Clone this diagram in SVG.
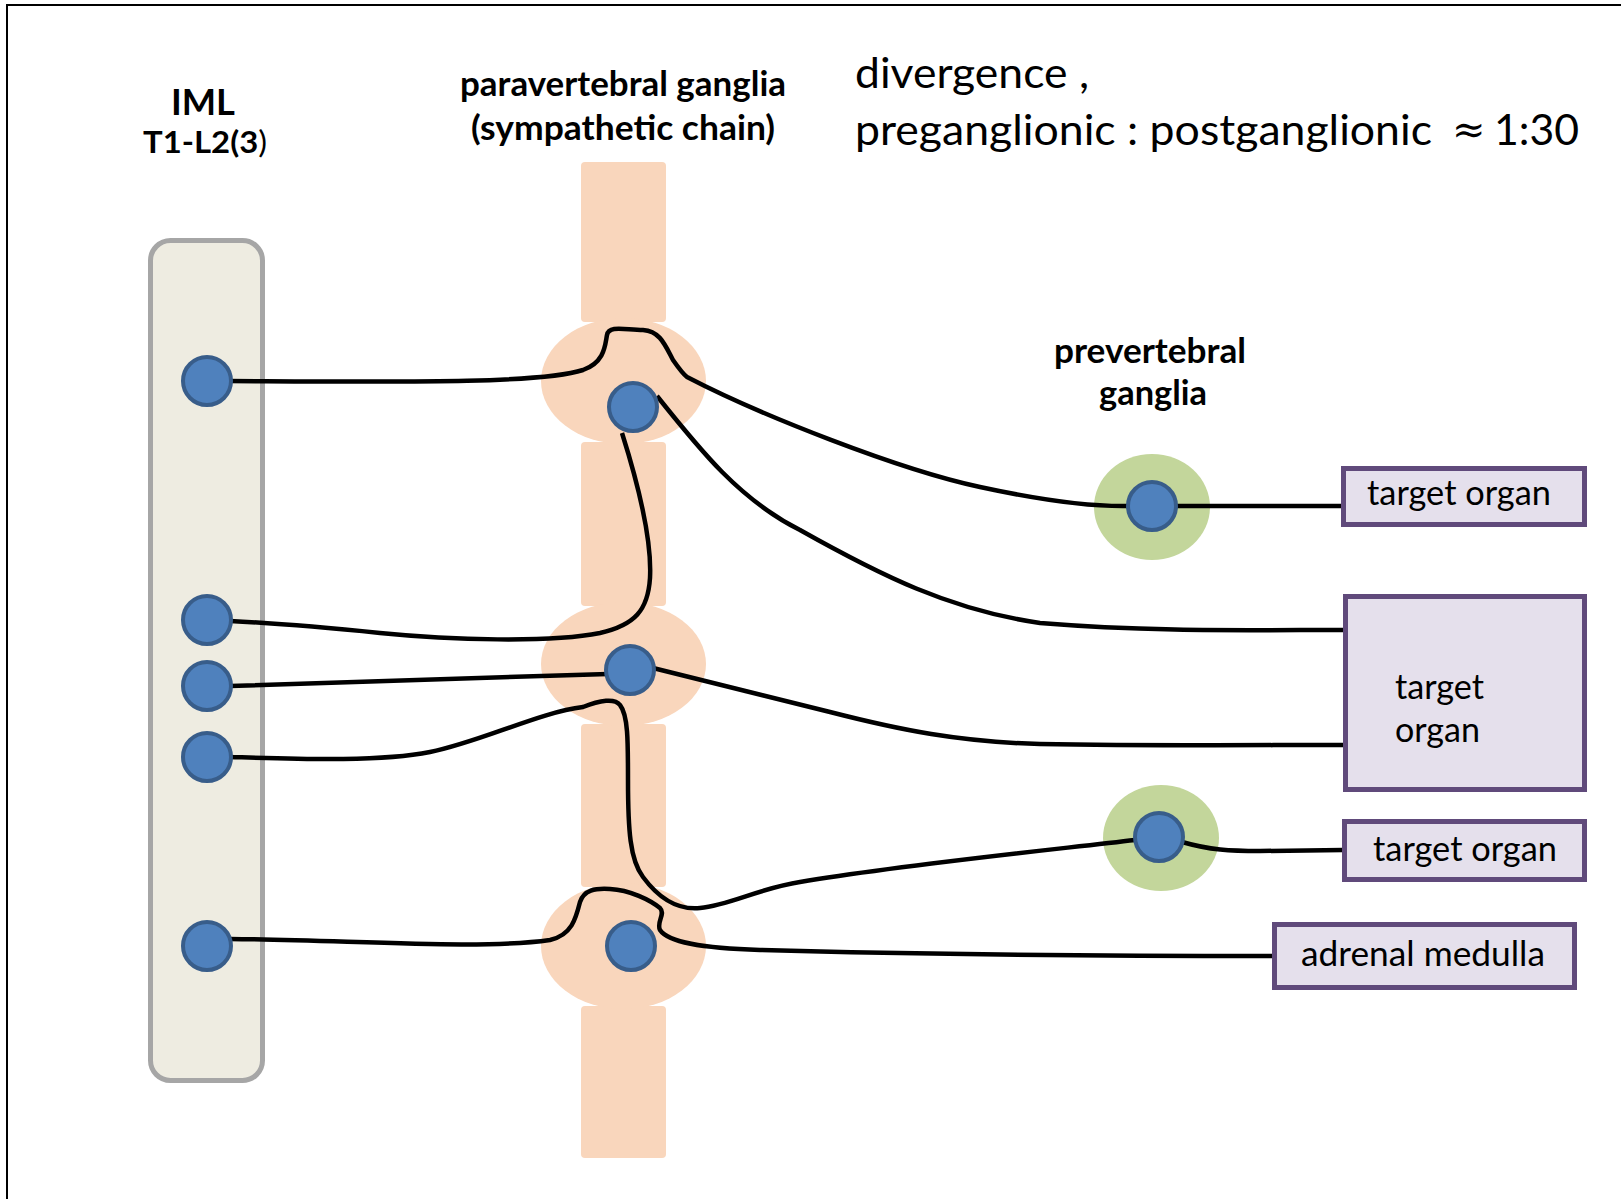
<svg xmlns="http://www.w3.org/2000/svg" width="1621" height="1199" viewBox="0 0 1621 1199">
<defs>
<style>
.frame{fill:none;stroke:#000;stroke-width:2}
.iml{fill:#eeece1;stroke:#a6a6a6;stroke-width:5}
.chain{fill:#f9d6bc}
.pre{fill:#c3d69b}
.neuron{fill:#4f81bd;stroke:#385d8a;stroke-width:4}
.organ{fill:#e5e0ec;stroke:#604a7b;stroke-width:5}
.fiber{fill:none;stroke:#000;stroke-width:4.5;stroke-linecap:butt}
text{font-family:Lato,"Open Sans","Liberation Sans",sans-serif;fill:#000}
.b{font-weight:bold}
.lbl{font-size:34px}
.hd{font-size:43px}
</style>
</defs>
<rect width="1621" height="1199" fill="#fff"/>
<path class="frame" d="M7,1199 V5 H1621"/>

<g id="title">
<text class="hd" x="855" y="88" textLength="234" lengthAdjust="spacingAndGlyphs">divergence ,</text>
<text class="hd" x="855" y="145" textLength="577" lengthAdjust="spacingAndGlyphs">preganglionic : postganglionic</text>
<text x="1452" y="143" font-size="40" style="font-family:'DejaVu Serif','Liberation Serif',serif">≈</text>
<text class="hd" x="1494" y="145" textLength="85" lengthAdjust="spacingAndGlyphs">1:30</text>
</g>

<g id="iml">
<rect class="iml" x="150.5" y="240.5" width="112" height="840" rx="20"/>
<text class="b" x="203" y="115" font-size="36" text-anchor="middle" textLength="64" lengthAdjust="spacingAndGlyphs">IML</text>
<text class="b" x="205" y="153" font-size="31" text-anchor="middle" textLength="124" lengthAdjust="spacingAndGlyphs">T1-L2(3<tspan font-weight="normal">)</tspan></text>
</g>

<g id="paravertebral-chain">
<rect class="chain" x="581" y="162" width="85" height="160" rx="4"/>
<rect class="chain" x="581" y="442" width="85" height="164" rx="4"/>
<rect class="chain" x="581" y="724" width="85" height="163" rx="4"/>
<rect class="chain" x="581" y="1006" width="85" height="152" rx="4"/>
<ellipse class="chain" cx="623.5" cy="381" rx="82.5" ry="63"/>
<ellipse class="chain" cx="623.5" cy="664" rx="82.5" ry="62"/>
<ellipse class="chain" cx="623.5" cy="946" rx="82.5" ry="63"/>
<text class="b" x="623" y="96" font-size="34" text-anchor="middle" textLength="326" lengthAdjust="spacingAndGlyphs">paravertebral ganglia</text>
<text class="b" x="623" y="140" font-size="34" text-anchor="middle" textLength="304" lengthAdjust="spacingAndGlyphs">(sympathetic chain)</text>
</g>

<g id="prevertebral">
<ellipse class="pre" cx="1152" cy="507" rx="58" ry="53"/>
<ellipse class="pre" cx="1161" cy="838" rx="58" ry="53"/>
<text class="b" x="1150" y="363" font-size="34" text-anchor="middle" textLength="192" lengthAdjust="spacingAndGlyphs">prevertebral</text>
<text class="b" x="1153" y="405" font-size="34" text-anchor="middle" textLength="108" lengthAdjust="spacingAndGlyphs">ganglia</text>
</g>

<g id="connectors">
<path class="fiber" d="M228,381 C400,382 540,384 583,370 C605,362 605,345 607,335 C609,325 625,330 643,330 C660,331 665,345 673,360 C680,370 683,374 687,377 C760,415 900,470 980,487 C1040,500 1090,507 1130,506"/>
<path class="fiber" d="M1170,506 L1343,506"/>
<path class="fiber" d="M657,396 C700,450 740,500 800,530 C880,575 950,610 1040,623 C1150,632 1250,630 1343,630"/>
<path class="fiber" d="M622,433 C640,490 652,540 650,578 C648,610 635,625 600,633 C550,643 450,640 380,633 C320,627 270,623 230,621"/>
<path class="fiber" d="M230,686 C400,681 500,677 608,674"/>
<path class="fiber" d="M653,668 C700,680 760,695 830,712 C900,730 960,742 1040,744 C1150,746 1250,745 1343,745"/>
<path class="fiber" d="M230,757 C300,759 380,762 430,752 C480,742 540,712 583,707 C600,700 615,698 620,705 C628,715 628,740 628,780 C628,830 630,860 643,877 C660,900 680,910 700,908 C730,905 760,888 800,882 C900,865 1050,850 1135,840"/>
<path class="fiber" d="M1182,842 C1210,850 1230,851 1260,851 L1343,850"/>
<path class="fiber" d="M230,939 C350,940 480,950 550,940 C572,935 576,918 580,902 C584,890 595,888 610,889 C630,890 650,900 660,908 C666,914 656,922 660,930 C668,942 700,948 760,950 C900,954 1100,956 1273,956"/>
</g>

<g id="neurons">
<circle class="neuron" cx="207" cy="381" r="24"/>
<circle class="neuron" cx="207" cy="620" r="24"/>
<circle class="neuron" cx="207" cy="686" r="24"/>
<circle class="neuron" cx="207" cy="757" r="24"/>
<circle class="neuron" cx="207" cy="946" r="24"/>
<circle class="neuron" cx="633" cy="407" r="24"/>
<circle class="neuron" cx="630" cy="670" r="24"/>
<circle class="neuron" cx="631" cy="946" r="24"/>
<circle class="neuron" cx="1152" cy="506" r="24"/>
<circle class="neuron" cx="1159" cy="837" r="24"/>
</g>

<g id="organ1">
<rect class="organ" x="1343.5" y="468.5" width="241" height="56"/>
<text class="lbl" x="1367" y="505" textLength="184" lengthAdjust="spacingAndGlyphs">target organ</text>
</g>
<g id="organ2">
<rect class="organ" x="1345.5" y="596.5" width="239" height="193"/>
<text class="lbl" x="1395" y="699" textLength="89" lengthAdjust="spacingAndGlyphs">target</text>
<text class="lbl" x="1395" y="742" textLength="85" lengthAdjust="spacingAndGlyphs">organ</text>
</g>
<g id="organ3">
<rect class="organ" x="1344.5" y="821.5" width="240" height="58"/>
<text class="lbl" x="1373" y="861" textLength="184" lengthAdjust="spacingAndGlyphs">target organ</text>
</g>
<g id="adrenal">
<rect class="organ" x="1274.5" y="924.5" width="300" height="63"/>
<text class="lbl" x="1301" y="966" textLength="244" lengthAdjust="spacingAndGlyphs">adrenal medulla</text>
</g>
</svg>
